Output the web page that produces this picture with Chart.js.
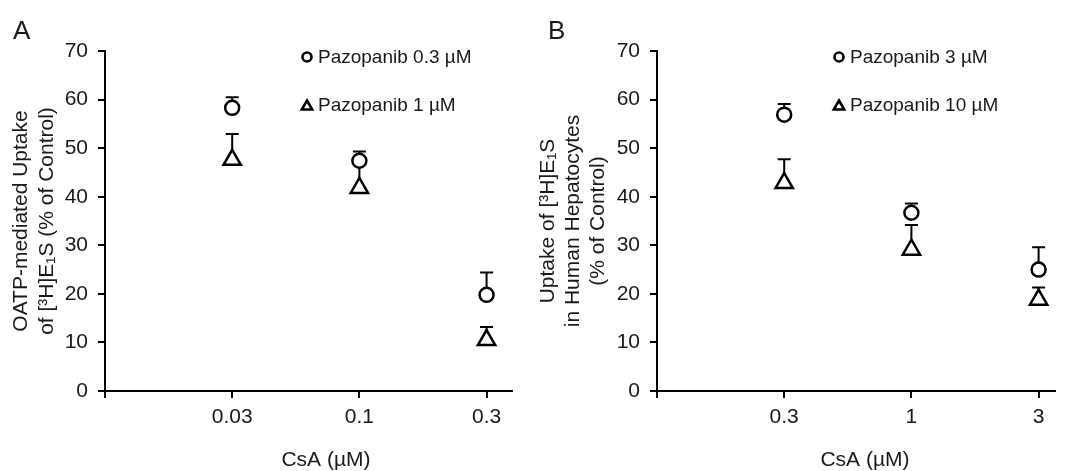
<!DOCTYPE html>
<html>
<head>
<meta charset="utf-8">
<title>CsA inhibition of [3H]E1S uptake</title>
<script src="https://cdn.jsdelivr.net/npm/chart.js@4.4.0/dist/chart.umd.min.js"></script>
<style>
    body { margin: 0; background: #fff; }
    #wrap { position: relative; width: 1067px; height: 471px; overflow: hidden; }
    .panel { position: absolute; top: 0; height: 471px; }
    #panelA { left: 0; width: 535px; }
    #panelB { left: 535px; width: 532px; }
</style>
</head>
<body>
<div id="wrap">
    <div class="panel" id="panelA"><canvas id="chartA" width="535" height="471"></canvas></div>
    <div class="panel" id="panelB"><canvas id="chartB" width="532" height="471"></canvas></div>
</div>
<script>
// ==========================================================================
// DATA: CsA concentrations and mean uptake (% of control) with upper SD
// ==========================================================================
const csaA = ['0.03', '0.1', '0.3'];
const pazLowA = [58.3, 47.4, 19.8];      // Pazopanib 0.3 µM
const pazLowSdA = [2.2, 1.9, 4.6];
const pazHighA = [47.6, 41.8, 10.5];     // Pazopanib 1 µM
const pazHighSdA = [5.3, 5.0, 2.7];

const csaB = ['0.3', '1', '3'];
const pazLowB = [56.9, 36.7, 25.0];      // Pazopanib 3 µM
const pazLowSdB = [2.2, 1.9, 4.6];
const pazHighB = [42.8, 29.1, 18.8];     // Pazopanib 10 µM
const pazHighSdB = [4.9, 5.1, 2.5];

const yTicks = [0, 10, 20, 30, 40, 50, 60, 70];

const FONT = "'Liberation Sans', Arial, sans-serif";
const INK = '#1a1a1a';
Chart.defaults.font.family = FONT;
Chart.defaults.color = INK;

// ==========================================================================
// PLUGINS: one-sided error bars + legend / letter / x title text
// ==========================================================================
const errorBars = {
    id: 'errorBars',
    beforeDatasetsDraw(chart) {
        const ctx = chart.ctx;
        const yScale = chart.scales.y;
        ctx.save();
        ctx.strokeStyle = '#000';
        ctx.lineWidth = 2;
        chart.data.datasets.forEach((ds, i) => {
            if (!ds.errors) return;
            chart.getDatasetMeta(i).data.forEach((pt, j) => {
                const top = yScale.getPixelForValue(ds.data[j].y + ds.errors[j]);
                ctx.beginPath();
                ctx.moveTo(pt.x, pt.y);
                ctx.lineTo(pt.x, top);
                ctx.moveTo(pt.x - 6.5, top);
                ctx.lineTo(pt.x + 6.5, top);
                ctx.stroke();
            });
        });
        ctx.restore();
    }
};

const panelText = {
    id: 'panelText',
    afterDraw(chart, args, opts) {
        const ctx = chart.ctx;
        ctx.save();
        ctx.fillStyle = INK;

        // panel letter
        ctx.font = `26px ${FONT}`;
        ctx.textAlign = 'left';
        ctx.textBaseline = 'alphabetic';
        ctx.fillText(opts.letter, opts.letterX, 39);

        // x axis title
        ctx.font = `21px ${FONT}`;
        ctx.textAlign = 'center';
        ctx.textBaseline = 'middle';
        ctx.fillText(opts.xTitle, opts.xTitleX, 460);

        // legend entries
        chart.data.datasets.forEach((ds, i) => {
            const y = opts.keyRows[i];
            const tri = ds.pointStyle === 'triangle';
            ctx.fillStyle = '#fff';
            ctx.strokeStyle = '#000';
            ctx.lineWidth = 2.6;
            Chart.helpers.drawPoint(ctx, {
                pointStyle: ds.pointStyle,
                radius: tri ? 6 : 4.5,
                borderWidth: 2.6,
                rotation: 0
            }, opts.keyX, y + (tri ? 1.5 : 0));
            ctx.fillStyle = INK;
            ctx.font = `19px ${FONT}`;
            ctx.textAlign = 'left';
            ctx.textBaseline = 'middle';
            ctx.fillText(ds.label, opts.keyTextX, y + 1);
        });
        ctx.restore();
    }
};

// ==========================================================================
// PANEL BUILDER
// ==========================================================================
function makePanel(canvasId, cfg) {
    const ctx = document.getElementById(canvasId).getContext('2d');
    const toPoints = vals => vals.map((v, i) => ({ x: i + 1, y: v }));
    return new Chart(ctx, {
        type: 'scatter',
        data: {
            datasets: [
                {
                    label: cfg.labels[0],
                    data: toPoints(cfg.low),
                    errors: cfg.lowSd,
                    pointStyle: 'circle',
                    pointRadius: 7,
                    pointBorderWidth: 2.5,
                    borderColor: '#000',
                    backgroundColor: '#fff'
                },
                {
                    label: cfg.labels[1],
                    data: toPoints(cfg.high),
                    errors: cfg.highSd,
                    pointStyle: 'triangle',
                    pointRadius: 10,
                    pointBorderWidth: 2.5,
                    borderColor: '#000',
                    backgroundColor: '#fff'
                }
            ]
        },
        options: {
            responsive: false,
            animation: false,
            layout: { padding: { left: 0, top: 51, right: cfg.padRight, bottom: 0 } },
            plugins: {
                legend: { display: false },
                tooltip: { enabled: false },
                panelText: cfg.text
            },
            scales: {
                x: {
                    type: 'linear',
                    min: 0,
                    max: cfg.xMax,
                    afterFit: s => { s.height = 80; },
                    afterBuildTicks: s => {
                        s.ticks = [0, 1, 2, 3].map(v => ({ value: v }));
                    },
                    ticks: {
                        padding: 7,
                        color: INK,
                        font: { size: 21 },
                        maxRotation: 0,
                        callback: v => (v >= 1 ? cfg.categories[v - 1] : '')
                    },
                    grid: { drawOnChartArea: false, tickLength: 7, color: '#000', lineWidth: 2 },
                    border: { color: '#000', width: 2 }
                },
                y: {
                    min: 0,
                    max: 70,
                    afterFit: s => { s.width = cfg.yWidth; },
                    afterBuildTicks: s => {
                        s.ticks = yTicks.map(v => ({ value: v }));
                    },
                    ticks: { padding: 10, color: INK, font: { size: 21 } },
                    grid: { drawOnChartArea: false, tickLength: 7, color: '#000', lineWidth: 2 },
                    border: { color: '#000', width: 2 },
                    title: {
                        display: true,
                        text: cfg.yTitle,
                        color: INK,
                        font: { size: 21, lineHeight: cfg.yTitleLine },
                        padding: { top: cfg.yTitlePad, bottom: 0 }
                    }
                }
            }
        },
        plugins: [errorBars, panelText]
    });
}

makePanel('chartA', {
    categories: csaA,
    low: pazLowA, lowSd: pazLowSdA,
    high: pazHighA, highSd: pazHighSdA,
    labels: ['Pazopanib 0.3 µM', 'Pazopanib 1 µM'],
    xMax: 3.2,
    padRight: 23,
    yWidth: 105,
    yTitle: ['OATP-mediated Uptake', 'of [³H]E₁S (% of Control)'],
    yTitleLine: 1.24,
    yTitlePad: 8,
    text: { letter: 'A', letterX: 13, xTitle: 'CsA (µM)', xTitleX: 326, keyX: 307, keyTextX: 318, keyRows: [57, 105] }
});

makePanel('chartB', {
    categories: csaB,
    low: pazLowB, lowSd: pazLowSdB,
    high: pazHighB, highSd: pazHighSdB,
    labels: ['Pazopanib 3 µM', 'Pazopanib 10 µM'],
    xMax: 3.125,
    padRight: 0,
    yWidth: 122,
    yTitle: ['Uptake of [³H]E₁S', 'in Human Hepatocytes', '(% of Control)'],
    yTitleLine: 1.21,
    yTitlePad: 0,
    text: { letter: 'B', letterX: 13, xTitle: 'CsA (µM)', xTitleX: 330, keyX: 304, keyTextX: 315, keyRows: [57, 105] }
});
</script>
</body>
</html>
